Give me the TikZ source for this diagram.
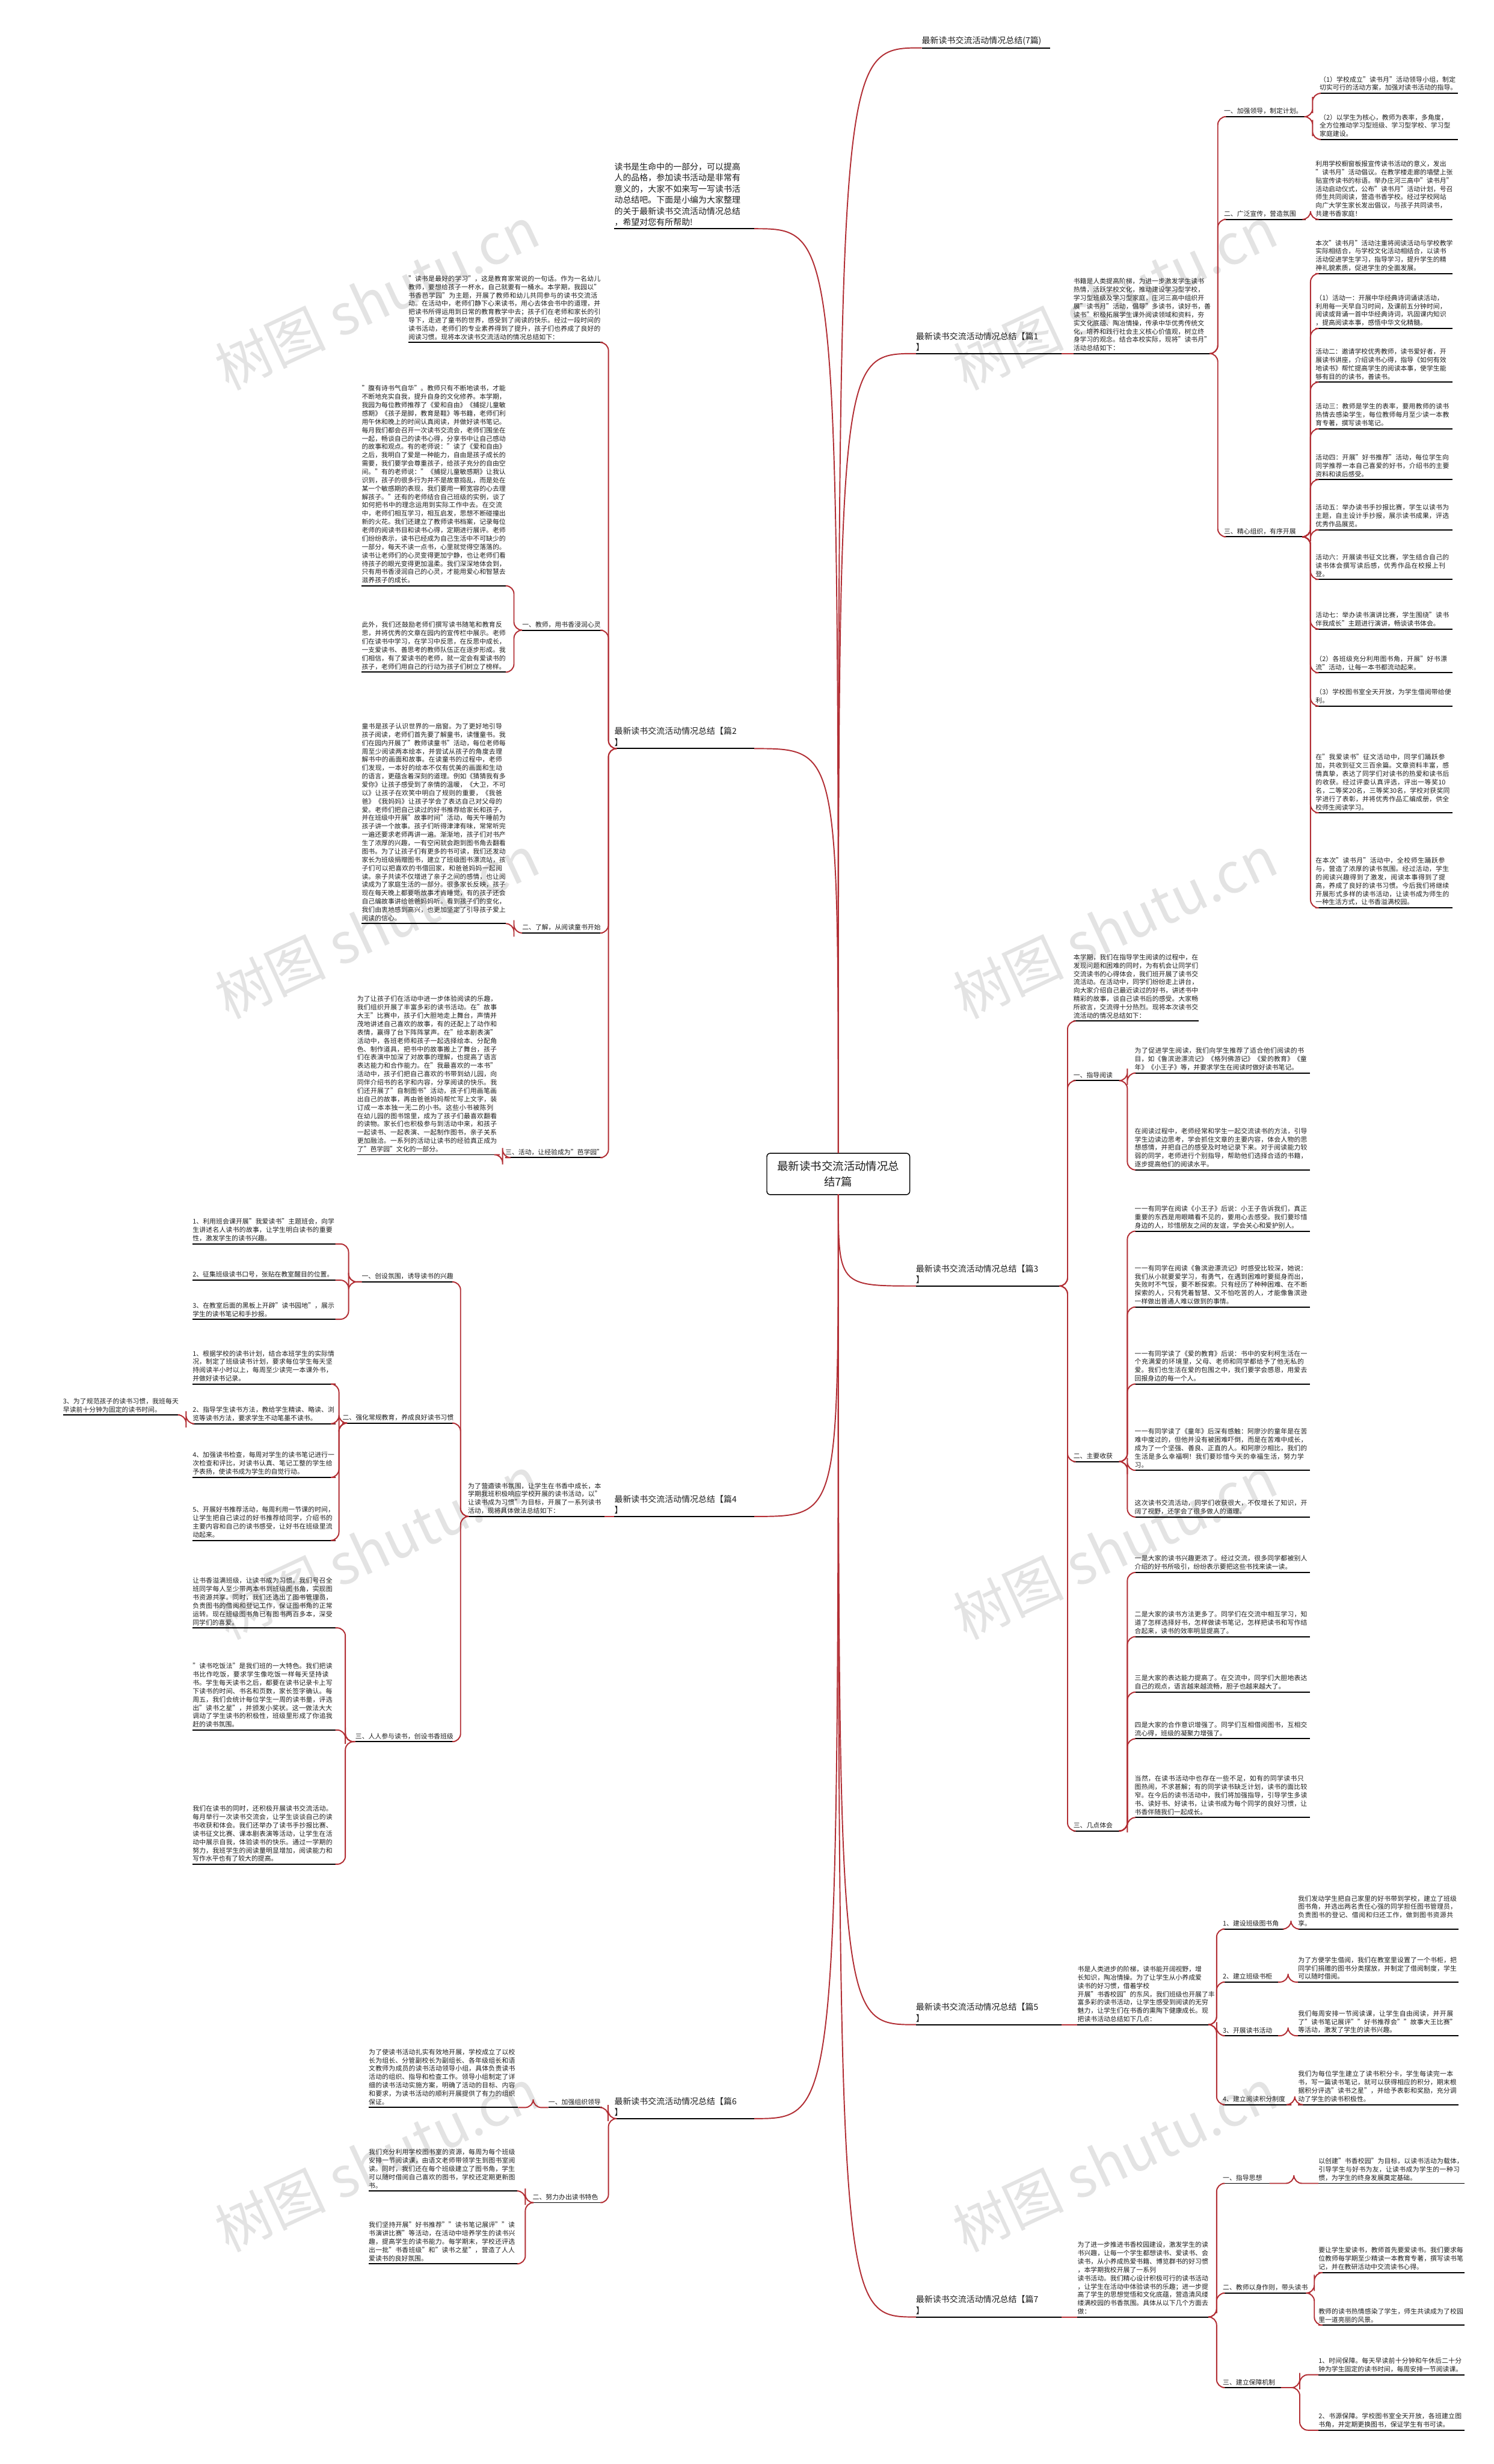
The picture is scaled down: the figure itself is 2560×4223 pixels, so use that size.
% NOTE: the small body texts of most leaf blocks could not be read at the
% resolution available (only a few regions were zoomed). Texts of the centre,
% titles, intro, 篇1 (first blocks), and the visible fragments are copied; the
% remaining leaf paragraphs are approximate reconstructions, not verbatim copies.
\documentclass[tikz,border=0pt]{standalone}
\usepackage{fontspec}
\setmainfont{Noto Sans CJK SC}
\XeTeXlinebreaklocale "zh"
\XeTeXlinebreakskip=0pt plus 1pt
\usetikzlibrary{calc}
\definecolor{branch}{RGB}{178,46,52}
\definecolor{ink}{RGB}{30,30,30}
\tikzset{
 leaf/.style={font=\fontsize{11.2}{14.3}\selectfont, align=left, inner xsep=0pt, inner ysep=4pt, anchor=south west, text=ink},
 ttl/.style={leaf, font=\fontsize{14.4}{19}\selectfont},
 uline/.style={draw=black, line width=2pt},
 conn/.style={draw=branch, line width=2pt, rounded corners=14pt},
 mainconn/.style={draw=branch, line width=2pt},
 wmark/.style={text=gray, opacity=0.22, rotate=25, font=\fontsize{95}{95}\selectfont},
}
% node with explicit line breaks
\newcommand\nd[6][leaf]{\node[#1] (#2) at (#3,#4) {#6};
 \coordinate (#2-l) at (#3,#4); \coordinate (#2-r) at (#3+#5,#4);
 \draw[uline] (#2-l) -- (#2-r);}
% node with wrapped text
\newcommand\nw[6][leaf]{\node[#1,text width=#5pt] (#2) at (#3,#4) {#6};
 \coordinate (#2-l) at (#3,#4); \coordinate (#2-r) at (#3+#5,#4);
 \draw[uline] (#2-l) -- (#2-r);}
\newcommand\cR[2]{\draw[conn] (#1-r) -| ($(#1-r)!.5!(#2-l)$) |- (#2-l);}
\newcommand\cL[2]{\draw[conn] (#1-l) -| ($(#1-l)!.5!(#2-r)$) |- (#2-r);}
\begin{document}
\begin{tikzpicture}[x=1pt,y=-1pt]
\useasboundingbox (0,0) rectangle (2560,4223);
\fill[white] (0,0) rectangle (2560,4223);
% watermarks
\foreach \x/\y in {646/511,1911/511,646/1588,1911/1588,646/2652,1911/2652,646/3702,1911/3702}{\node[wmark] at (\x,\y) {树图 shutu.cn};}
% center
\node[draw=black, line width=1.5pt, rounded corners=6pt, minimum width=245pt, minimum height=71pt, align=center, font=\fontsize{19}{26}\selectfont, text=ink] (ctr) at (1437,2012) {最新读书交流活动情况总\\结7篇};
\coordinate (ctop) at (1437,1976);
\coordinate (cbot) at (1437,2047);
% ---- top-left intro
\nd[ttl]{intro}{1053}{392}{240}{读书是生命中的一部分，可以提高\\人的品格，参加读书活动是非常有\\意义的，大家不如来写一写读书活\\动总结吧。下面是小编为大家整理\\的关于最新读书交流活动情况总结\\，希望对您有所帮助!}
% ---- titles
\nd[ttl]{t0}{1580}{82}{220}{最新读书交流活动情况总结(7篇)}
\nd[ttl]{t1}{1570}{606}{250}{最新读书交流活动情况总结【篇1\\】}
\nd[ttl]{t2}{1053}{1283}{240}{最新读书交流活动情况总结【篇2\\】}
\nd[ttl]{t3}{1570}{2204}{250}{最新读书交流活动情况总结【篇3\\】}
\nd[ttl]{t4}{1053}{2599}{240}{最新读书交流活动情况总结【篇4\\】}
\nd[ttl]{t5}{1570}{3470}{250}{最新读书交流活动情况总结【篇5\\】}
\nd[ttl]{t6}{1053}{3631}{240}{最新读书交流活动情况总结【篇6\\】}
\nd[ttl]{t7}{1570}{3971}{250}{最新读书交流活动情况总结【篇7\\】}
\foreach \t in {t0,t1}{\draw[mainconn] (ctop) .. controls (ctop |- \t-l) and (ctop |- \t-l) .. (\t-l);}
\foreach \t in {t3,t5,t7}{\draw[mainconn] (cbot) .. controls (cbot |- \t-l) and (cbot |- \t-l) .. (\t-l);}
\foreach \t in {intro,t2}{\draw[mainconn] (ctop) .. controls (ctop |- \t-r) and (ctop |- \t-r) .. (\t-r);}
\foreach \t in {t4,t6}{\draw[mainconn] (cbot) .. controls (cbot |- \t-r) and (cbot |- \t-r) .. (\t-r);}
% ================= 篇1
\nd{p1i}{1840}{606}{237}{书籍是人类提高阶梯，为进一步激发学生读书\\热情，活跃学校文化，推动建设学习型学校，\\学习型班级及学习型家庭，庄河三高中组织开\\展"读书月"活动，倡导"多读书，读好书，善\\读书"积极拓展学生课外阅读领域和资料，夯\\实文化底蕴、陶冶情操，传承中华优秀传统文\\化，培养和践行社会主义核心价值观，树立终\\身学习的观念。结合本校实际，现将"读书月"\\活动总结如下：}
\draw[conn] (t1-r) -- (p1i-l);
\nd{a1}{2098}{200}{140}{一、加强领导，制定计划。}
\nd{a2}{2098}{376}{140}{二、广泛宣传，营造氛围}
\nd{a3}{2098}{920}{140}{三、精心组织，有序开展}
\foreach \c in {a1,a2,a3}{\cR{p1i}{\c}}
\nw{a1a}{2262}{160}{237}{（1）学校成立"读书月"活动领导小组，制定切实可行的活动方案，加强对读书活动的指导。}
\nd{a1b}{2262}{239}{237}{（2）以学生为核心，教师为表率，多角度，\\全方位推动学习型班级、学习型学校、学习型\\家庭建设。}
\cR{a1}{a1a}\cR{a1}{a1b}
\nd{a2a}{2255}{376}{235}{利用学校橱窗板报宣传读书活动的意义，发出\\"读书月"活动倡议。在教学楼走廊的墙壁上张\\贴宣传读书的标语。举办庄河三高中"读书月"\\活动启动仪式，公布"读书月"活动计划，号召\\师生共同阅读，营造书香学校。经过学校网站\\向广大学生家长发出倡议，与孩子共同读书，\\共建书香家庭！}
\cR{a2}{a2a}
\nd{a3a}{2255}{469}{235}{本次"读书月"活动注重将阅读活动与学校教学\\实际相结合，与学校文化活动相结合，以读书\\活动促进学生学习，指导学习，提升学生的精\\神礼貌素质，促进学生的全面发展。}
\nd{a3b}{2255}{563}{235}{（1）活动一：开展中华经典诗词诵读活动，\\利用每一天早自习时间，及课前五分钟时间，\\阅读或背诵一首中华经典诗词，巩固课内知识\\，提高阅读本事，感悟中华文化精髓。}
\nd{a3c}{2255}{655}{235}{活动二：邀请学校优秀教师，读书爱好者，开\\展读书讲座，介绍读书心得，指导《如何有效\\地读书》帮忙提高学生的阅读本事，使学生能\\够有目的的读书，善读书。}
\nw{a3d}{2255}{735}{235}{活动三：教师是学生的表率，要用教师的读书热情去感染学生，每位教师每月至少读一本教育专著，撰写读书笔记。}
\nw{a3e}{2255}{822}{235}{活动四：开展"好书推荐"活动，每位学生向同学推荐一本自己喜爱的好书，介绍书的主要资料和读后感受。}
\nw{a3f}{2255}{908}{235}{活动五：举办读书手抄报比赛，学生以读书为主题，自主设计手抄报，展示读书成果，评选优秀作品展览。}
\nw{a3g}{2255}{993}{235}{活动六：开展读书征文比赛，学生结合自己的读书体会撰写读后感，优秀作品在校报上刊登。}
\nw{a3h}{2255}{1078}{235}{活动七：举办读书演讲比赛，学生围绕"读书伴我成长"主题进行演讲，畅谈读书体会。}
\nw{a3i}{2255}{1153}{235}{（2）各班级充分利用图书角，开展"好书漂流"活动，让每一本书都流动起来。}
\nw{a3j}{2255}{1210}{235}{（3）学校图书室全天开放，为学生借阅带给便利。}
\nw{a3k}{2255}{1393}{235}{在"我爱读书"征文活动中，同学们踊跃参加，共收到征文三百余篇。文章资料丰富，感情真挚，表达了同学们对读书的热爱和读书后的收获。经过评委认真评选，评出一等奖10名，二等奖20名，三等奖30名，学校对获奖同学进行了表彰，并将优秀作品汇编成册，供全校师生阅读学习。}
\nw{a3l}{2255}{1556}{235}{在本次"读书月"活动中，全校师生踊跃参与，营造了浓厚的读书氛围。经过活动，学生的阅读兴趣得到了激发，阅读本事得到了提高，养成了良好的读书习惯。今后我们将继续开展形式多样的读书活动，让读书成为师生的一种生活方式，让书香溢满校园。}
\foreach \c in {a3a,a3b,a3c,a3d,a3e,a3f,a3g,a3h,a3i,a3j,a3k,a3l}{\cR{a3}{\c}}
% ================= 篇2
\nw{i2}{700}{587}{333}{"读书是最好的学习"，这是教育家常说的一句话。作为一名幼儿教师，要想给孩子一杯水，自己就要有一桶水。本学期，我园以"书香芭学园"为主题，开展了教师和幼儿共同参与的读书交流活动。在活动中，老师们静下心来读书，用心去体会书中的道理，并把读书所得运用到日常的教育教学中去；孩子们在老师和家长的引导下，走进了童书的世界，感受到了阅读的快乐。经过一段时间的读书活动，老师们的专业素养得到了提升，孩子们也养成了良好的阅读习惯。现将本次读书交流活动的情况总结如下：}
\nd{b1}{895}{1080}{138}{一、教师，用书香浸润心灵}
\nd{b2}{895}{1599}{138}{二、了解，从阅读童书开始}
\nd{b3}{866}{1984}{167}{三、活动，让经验成为"芭学园"}
\foreach \c in {i2,b1,b2,b3}{\cL{t2}{\c}}
\nw{b1a}{620}{1004}{247}{"腹有诗书气自华"。教师只有不断地读书，才能不断地充实自我，提升自身的文化修养。本学期，我园为每位教师推荐了《爱和自由》《捕捉儿童敏感期》《孩子是脚，教育是鞋》等书籍，老师们利用午休和晚上的时间认真阅读，并做好读书笔记。每月我们都会召开一次读书交流会，老师们围坐在一起，畅谈自己的读书心得，分享书中让自己感动的故事和观点。有的老师说："读了《爱和自由》之后，我明白了爱是一种能力，自由是孩子成长的需要，我们要学会尊重孩子，给孩子充分的自由空间。"有的老师说："《捕捉儿童敏感期》让我认识到，孩子的很多行为并不是故意捣乱，而是处在某一个敏感期的表现，我们要用一颗宽容的心去理解孩子。"还有的老师结合自己班级的实例，谈了如何把书中的理念运用到实际工作中去。在交流中，老师们相互学习，相互启发，思想不断碰撞出新的火花。我们还建立了教师读书档案，记录每位老师的阅读书目和读书心得，定期进行展评。老师们纷纷表示，读书已经成为自己生活中不可缺少的一部分，每天不读一点书，心里就觉得空落落的。读书让老师们的心灵变得更加宁静，也让老师们看待孩子的眼光变得更加温柔。我们深深地体会到，只有用书香浸润自己的心灵，才能用爱心和智慧去滋养孩子的成长。}
\nw{b1b}{620}{1152}{247}{此外，我们还鼓励老师们撰写读书随笔和教育反思，并将优秀的文章在园内的宣传栏中展示。老师们在读书中学习，在学习中反思，在反思中成长，一支爱读书、善思考的教师队伍正在逐步形成。我们相信，有了爱读书的老师，就一定会有爱读书的孩子，老师们用自己的行动为孩子们树立了榜样。}
\cL{b1}{b1a}\cL{b1}{b1b}
\nw{b2a}{620}{1583}{247}{童书是孩子认识世界的一扇窗。为了更好地引导孩子阅读，老师们首先要了解童书，读懂童书。我们在园内开展了"教师读童书"活动，每位老师每周至少阅读两本绘本，并尝试从孩子的角度去理解书中的画面和故事。在读童书的过程中，老师们发现，一本好的绘本不仅有优美的画面和生动的语言，更蕴含着深刻的道理。例如《猜猜我有多爱你》让孩子感受到了亲情的温暖，《大卫，不可以》让孩子在欢笑中明白了规则的重要，《我爸爸》《我妈妈》让孩子学会了表达自己对父母的爱。老师们把自己读过的好书推荐给家长和孩子，并在班级中开展"故事时间"活动，每天午睡前为孩子讲一个故事。孩子们听得津津有味，常常听完一遍还要求老师再讲一遍。渐渐地，孩子们对书产生了浓厚的兴趣，一有空闲就会跑到图书角去翻看图书。为了让孩子们有更多的书可读，我们还发动家长为班级捐赠图书，建立了班级图书漂流站，孩子们可以把喜欢的书借回家，和爸爸妈妈一起阅读。亲子共读不仅增进了亲子之间的感情，也让阅读成为了家庭生活的一部分。很多家长反映，孩子现在每天晚上都要听故事才肯睡觉，有的孩子还会自己编故事讲给爸爸妈妈听。看到孩子们的变化，我们由衷地感到高兴，也更加坚定了引导孩子爱上阅读的信心。}
\cL{b2}{b2a}
\nw{b3a}{612}{1979}{245}{为了让孩子们在活动中进一步体验阅读的乐趣，我们组织开展了丰富多彩的读书活动。在"故事大王"比赛中，孩子们大胆地走上舞台，声情并茂地讲述自己喜欢的故事，有的还配上了动作和表情，赢得了台下阵阵掌声。在"绘本剧表演"活动中，各班老师和孩子一起选择绘本、分配角色、制作道具，把书中的故事搬上了舞台，孩子们在表演中加深了对故事的理解，也提高了语言表达能力和合作能力。在"我最喜欢的一本书"活动中，孩子们把自己喜欢的书带到幼儿园，向同伴介绍书的名字和内容，分享阅读的快乐。我们还开展了"自制图书"活动，孩子们用画笔画出自己的故事，再由爸爸妈妈帮忙写上文字，装订成一本本独一无二的小书。这些小书被陈列在幼儿园的图书馆里，成为了孩子们最喜欢翻看的读物。家长们也积极参与到活动中来，和孩子一起读书、一起表演、一起制作图书，亲子关系更加融洽。一系列的活动让读书的经验真正成为了"芭学园"文化的一部分。}
\cL{b3}{b3a}
% ================= 篇3
\nw{c0}{1840}{1750}{215}{本学期，我们在指导学生阅读的过程中，在发现问题和困难的同时，为有机会让同学们交流读书的心得体会，我们班开展了读书交流活动。在活动中，同学们纷纷走上讲台，向大家介绍自己最近读过的好书，讲述书中精彩的故事，谈自己读书后的感受。大家畅所欲言，交流得十分热烈。现将本次读书交流活动的情况总结如下：}
\nd{c1}{1840}{1852}{80}{一、指导阅读}
\nd{c2}{1840}{2505}{80}{二、主要收获}
\nd{c3}{1840}{3138}{80}{三、几点体会}
\foreach \c in {c0,c1,c2,c3}{\cR{t3}{\c}}
\nw{c1a}{1945}{1839}{300}{为了促进学生阅读，我们向学生推荐了适合他们阅读的书目，如《鲁滨逊漂流记》《格列佛游记》《爱的教育》《童年》《小王子》等，并要求学生在阅读时做好读书笔记。}
\nw{c1b}{1945}{2005}{300}{在阅读过程中，老师经常和学生一起交流读书的方法，引导学生边读边思考，学会抓住文章的主要内容，体会人物的思想感情，并把自己的感受及时地记录下来。对于阅读能力较弱的同学，老师进行个别指导，帮助他们选择合适的书籍，逐步提高他们的阅读水平。}
\cR{c1}{c1a}\cR{c1}{c1b}
\nw{c2a}{1945}{2110}{300}{一一有同学在阅读《小王子》后说：小王子告诉我们，真正重要的东西是用眼睛看不见的，要用心去感受。我们要珍惜身边的人，珍惜朋友之间的友谊，学会关心和爱护别人。}
\nw{c2b}{1945}{2240}{300}{一一有同学在阅读《鲁滨逊漂流记》时感受比较深，她说：我们从小就要爱学习，有勇气，在遇到困难时要挺身而出，失败时不气馁，要不断探索。只有经历了种种困难、在不断探索的人，只有凭着智慧、又不怕吃苦的人，才能像鲁滨逊一样做出普通人难以做到的事情。}
\nw{c2c}{1945}{2372}{300}{一一有同学读了《爱的教育》后说：书中的安利柯生活在一个充满爱的环境里，父母、老师和同学都给予了他无私的爱。我们也生活在爱的包围之中，我们要学会感恩，用爱去回报身边的每一个人。}
\nw{c2d}{1945}{2520}{300}{一一有同学读了《童年》后深有感触：阿廖沙的童年是在苦难中度过的，但他并没有被困难吓倒，而是在苦难中成长，成为了一个坚强、善良、正直的人。和阿廖沙相比，我们的生活是多么幸福啊！我们要珍惜今天的幸福生活，努力学习。}
\nw{c2e}{1945}{2600}{300}{这次读书交流活动，同学们收获很大，不仅增长了知识，开阔了视野，还学会了很多做人的道理。}
\foreach \c in {c2a,c2b,c2c,c2d,c2e}{\cR{c2}{\c}}
\nw{c3a}{1945}{2695}{300}{一是大家的读书兴趣更浓了。经过交流，很多同学都被别人介绍的好书所吸引，纷纷表示要把这些书找来读一读。}
\nw{c3b}{1945}{2805}{300}{二是大家的读书方法更多了。同学们在交流中相互学习，知道了怎样选择好书，怎样做读书笔记，怎样把读书和写作结合起来，读书的效率明显提高了。}
\nw{c3c}{1945}{2900}{300}{三是大家的表达能力提高了。在交流中，同学们大胆地表达自己的观点，语言越来越流畅，胆子也越来越大了。}
\nw{c3d}{1945}{2980}{300}{四是大家的合作意识增强了。同学们互相借阅图书，互相交流心得，班级的凝聚力增强了。}
\nw{c3e}{1945}{3115}{300}{当然，在读书活动中也存在一些不足，如有的同学读书只图热闹，不求甚解；有的同学读书缺乏计划，读书的面比较窄。在今后的读书活动中，我们将加强指导，引导学生多读书、读好书、好读书，让读书成为每个同学的良好习惯，让书香伴随我们一起成长。}
\foreach \c in {c3a,c3b,c3c,c3d,c3e}{\cR{c3}{\c}}
% ================= 篇4
\nw{d0}{802}{2599}{234}{为了营造读书氛围，让学生在书香中成长，本学期我班积极响应学校开展的读书活动，以"让读书成为习惯"为目标，开展了一系列读书活动，现将具体做法总结如下：}
\draw[conn] (t4-l) -- (d0-r);
\nd{d1}{620}{2197}{157}{一、创设氛围，诱导读书的兴趣}
\nd{d2}{587}{2439}{190}{二、强化常规教育，养成良好读书习惯}
\nd{d3}{609}{2985}{168}{三、人人参与读书，创设书香班级}
\foreach \c in {d1,d2,d3}{\cL{d0}{\c}}
\nw{d1a}{330}{2132}{245}{1、利用班会课开展"我爱读书"主题班会，向学生讲述名人读书的故事，让学生明白读书的重要性，激发学生的读书兴趣。}
\nw{d1b}{330}{2194}{245}{2、征集班级读书口号，张贴在教室醒目的位置。}
\nw{d1c}{330}{2261}{245}{3、在教室后面的黑板上开辟"读书园地"，展示学生的读书笔记和手抄报。}
\foreach \c in {d1a,d1b,d1c}{\cL{d1}{\c}}
\nw{d2a}{330}{2372}{245}{1、根据学校的读书计划，结合本班学生的实际情况，制定了班级读书计划，要求每位学生每天坚持阅读半小时以上，每周至少读完一本课外书，并做好读书记录。}
\nw{d2b}{330}{2440}{245}{2、指导学生读书方法，教给学生精读、略读、浏览等读书方法，要求学生不动笔墨不读书。}
\nw{d2c}{330}{2532}{245}{4、加强读书检查，每周对学生的读书笔记进行一次检查和评比，对读书认真、笔记工整的学生给予表扬，使读书成为学生的自觉行动。}
\nw{d2d}{330}{2640}{245}{5、开展好书推荐活动，每周利用一节课的时间，让学生把自己读过的好书推荐给同学，介绍书的主要内容和自己的读书感受，让好书在班级里流动起来。}
\foreach \c in {d2a,d2b,d2c,d2d}{\cL{d2}{\c}}
\nw{d2x}{108}{2425}{200}{3、为了规范孩子的读书习惯，我班每天早读前十分钟为固定的读书时间。}
\cL{d2b}{d2x}
\nw{d3a}{330}{2790}{245}{让书香溢满班级，让读书成为习惯。我们号召全班同学每人至少带两本书到班级图书角，实现图书资源共享。同时，我们还选出了图书管理员，负责图书的借阅和登记工作，保证图书角的正常运转。现在班级图书角已有图书两百多本，深受同学们的喜爱。}
\nw{d3b}{330}{2965}{245}{"读书吃饭法"是我们班的一大特色。我们把读书比作吃饭，要求学生像吃饭一样每天坚持读书。学生每天读书之后，都要在读书记录卡上写下读书的时间、书名和页数，家长签字确认。每周五，我们会统计每位学生一周的读书量，评选出"读书之星"，并颁发小奖状。这一做法大大调动了学生读书的积极性，班级里形成了你追我赶的读书氛围。}
\nw{d3c}{330}{3195}{245}{我们在读书的同时，还积极开展读书交流活动。每月举行一次读书交流会，让学生谈谈自己的读书收获和体会。我们还举办了读书手抄报比赛、读书征文比赛、课本剧表演等活动，让学生在活动中展示自我，体验读书的快乐。通过一学期的努力，我班学生的阅读量明显增加，阅读能力和写作水平也有了较大的提高。}
\foreach \c in {d3a,d3b,d3c}{\cL{d3}{\c}}
% ================= 篇5
\nd{e0}{1847}{3470}{228}{书是人类进步的阶梯，读书能开阔视野，增\\长知识，陶冶情操。为了让学生从小养成爱\\读书的好习惯，借着学校\\开展"书香校园"的东风，我们班级也开展了丰\\富多彩的读书活动，让学生感受到阅读的无穷\\魅力，让学生们在书香的熏陶下健康成长。现\\把读书活动总结如下几点：}
\draw[conn] (t5-r) -- (e0-l);
\nd{e1}{2096}{3306}{105}{1、建设班级图书角}
\nd{e2}{2096}{3397}{95}{2、建立班级书柜}
\nd{e3}{2096}{3489}{95}{3、开展读书活动}
\nd{e4}{2096}{3607}{118}{4、建立阅读积分制度}
\foreach \c in {e1,e2,e3,e4}{\cR{e0}{\c}}
\nw{e1a}{2225}{3306}{275}{我们发动学生把自己家里的好书带到学校，建立了班级图书角，并选出两名责任心强的同学担任图书管理员，负责图书的登记、借阅和归还工作，做到图书资源共享。}
\nw{e2a}{2225}{3397}{275}{为了方便学生借阅，我们在教室里设置了一个书柜，把同学们捐赠的图书分类摆放，并制定了借阅制度，学生可以随时借阅。}
\nw{e3a}{2225}{3489}{275}{我们每周安排一节阅读课，让学生自由阅读，并开展了"读书笔记展评""好书推荐会""故事大王比赛"等活动，激发了学生的读书兴趣。}
\nw{e4a}{2225}{3607}{275}{我们为每位学生建立了读书积分卡，学生每读完一本书，写一篇读书笔记，就可以获得相应的积分，期末根据积分评选"读书之星"，并给予表彰和奖励，充分调动了学生的读书积极性。}
\cR{e1}{e1a}\cR{e2}{e2a}\cR{e3}{e3a}\cR{e4}{e4a}
% ================= 篇6
\nd{f1}{940}{3612}{92}{一、加强组织领导}
\nd{f2}{913}{3775}{120}{二、努力办出读书特色}
\foreach \c in {f1,f2}{\cL{t6}{\c}}
\nw{f1a}{632}{3612}{256}{为了使读书活动扎实有效地开展，学校成立了以校长为组长、分管副校长为副组长、各年级组长和语文教师为成员的读书活动领导小组，具体负责读书活动的组织、指导和检查工作。领导小组制定了详细的读书活动实施方案，明确了活动的目标、内容和要求，为读书活动的顺利开展提供了有力的组织保证。}
\cL{f1}{f1a}
\nw{f2a}{632}{3755}{256}{我们充分利用学校图书室的资源，每周为每个班级安排一节阅读课，由语文老师带领学生到图书室阅读。同时，我们还在每个班级建立了图书角，学生可以随时借阅自己喜欢的图书，学校还定期更新图书。}
\nw{f2b}{632}{3880}{256}{我们坚持开展"好书推荐""读书笔记展评""读书演讲比赛"等活动，在活动中培养学生的读书兴趣，提高学生的读书能力。每学期末，学校还评选出一批"书香班级"和"读书之星"，营造了人人爱读书的良好氛围。}
\cL{f2}{f2a}\cL{f2}{f2b}
% ================= 篇7
\nd{g0}{1847}{3971}{228}{为了进一步推进书香校园建设，激发学生的读\\书兴趣，让每一个学生都想读书、爱读书、会\\读书，从小养成热爱书籍、博览群书的好习惯\\，本学期我校开展了一系列\\读书活动。我们精心设计积极可行的读书活动\\，让学生在活动中体验读书的乐趣；进一步提\\高了学生的思想觉悟和文化底蕴，营造清风缕\\缕满校园的书香氛围。具体从以下几个方面去\\做：}
\draw[conn] (t7-r) -- (g0-l);
\nd{g1}{2096}{3742}{80}{一、指导思想}
\nd{g2}{2096}{3930}{150}{二、教师以身作则，带头读书}
\nd{g3}{2096}{4092}{100}{三、建立保障机制}
\foreach \c in {g1,g2,g3}{\cR{g0}{\c}}
\nw{g1a}{2260}{3742}{250}{以创建"书香校园"为目标，以读书活动为载体，引导学生与好书为友，让读书成为学生的一种习惯，为学生的终身发展奠定基础。}
\cR{g1}{g1a}
\nw{g2a}{2260}{3895}{250}{要让学生爱读书，教师首先要爱读书。我们要求每位教师每学期至少精读一本教育专著，撰写读书笔记，并在教研活动中交流读书心得。}
\nw{g2b}{2260}{3985}{250}{教师的读书热情感染了学生，师生共读成为了校园里一道亮丽的风景。}
\cR{g2}{g2a}\cR{g2}{g2b}
\nw{g3a}{2260}{4070}{250}{1、时间保障。每天早读前十分钟和午休后二十分钟为学生固定的读书时间，每周安排一节阅读课。}
\nw{g3b}{2260}{4165}{250}{2、书源保障。学校图书室全天开放，各班建立图书角，并定期更换图书，保证学生有书可读。}
\cR{g3}{g3a}\cR{g3}{g3b}
\end{tikzpicture}
\end{document}
